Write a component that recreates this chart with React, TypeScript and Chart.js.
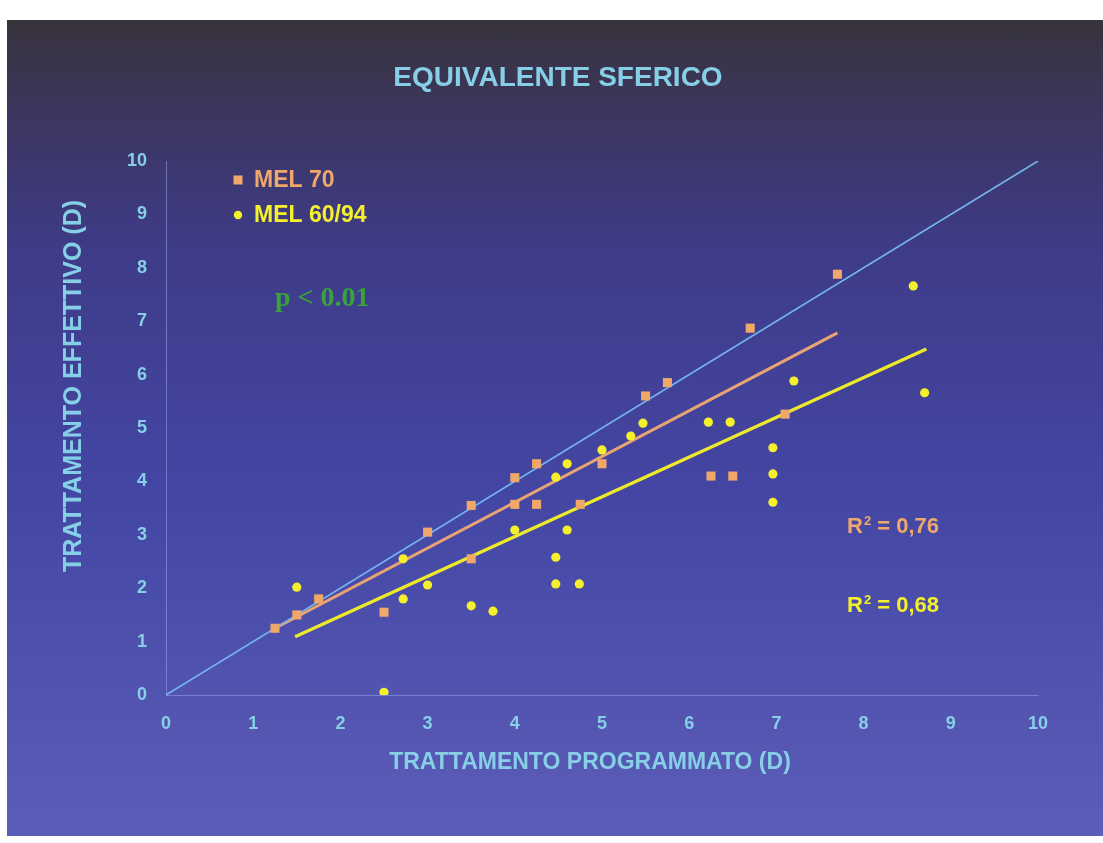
import React, { useEffect, useRef } from "react";
import { Chart, registerables } from "chart.js";

Chart.register(...registerables);

// ---- texts ----
const TITLE = "EQUIVALENTE SFERICO";
const X_TITLE = "TRATTAMENTO PROGRAMMATO (D)";
const Y_TITLE = "TRATTAMENTO EFFETTIVO (D)";
const SERIES_NAMES = ["MEL 70", "MEL 60/94"];
const P_TEXT = "p < 0.01";
const R2_VALUES = ["0,76", "0,68"];

// ---- axes ----
const AXIS_MIN = 0;
const AXIS_MAX = 10;
const AXIS_STEP = 1;

// ---- MEL 70 (squares) ----
const mel70X = [1.25, 1.5, 1.75, 2.5, 3, 3.5, 3.5, 4, 4, 4.25, 4.25, 4.75, 5, 5.5, 5.75, 6.25, 6.5, 6.7, 7.1, 7.7];
const mel70Y = [1.25, 1.5, 1.8, 1.55, 3.05, 3.55, 2.55, 4.07, 3.57, 4.33, 3.57, 3.57, 4.33, 5.6, 5.85, 4.1, 4.1, 6.87, 5.26, 7.88];

// ---- MEL 60/94 (circles) ----
const mel6094X = [1.5, 2.5, 2.72, 2.72, 3, 3.5, 3.75, 4, 4.47, 4.47, 4.47, 4.6, 4.6, 4.74, 5, 5.33, 5.47, 6.22, 6.47, 6.96, 6.96, 6.96, 7.2, 8.57, 8.7];
const mel6094Y = [2.02, 0.05, 2.55, 1.8, 2.06, 1.67, 1.57, 3.09, 4.08, 2.58, 2.08, 4.33, 3.09, 2.08, 4.59, 4.85, 5.09, 5.11, 5.11, 4.63, 4.14, 3.61, 5.88, 7.66, 5.66];

// ---- lines ----
const identityX = [0, 10];
const identityY = [0, 10];
const trend70X = [1.25, 7.7];
const trend70Y = [1.25, 6.78];
const trend6094X = [1.48, 8.72];
const trend6094Y = [1.09, 6.48];

const toPts = (xs: number[], ys: number[]) => xs.map((x, i) => ({ x, y: ys[i] }));

const CYAN = "#86cfe6";
const ORANGE = "#f0a86a";
const YELLOW = "#f4f02c";
const GREEN = "#3aa23a";
const SANS = "'Liberation Sans', Arial, sans-serif";

const overlay = {
  id: "overlay",
  afterDraw(chart: any) {
    const { ctx, chartArea: a } = chart;
    ctx.save();
    // title
    ctx.fillStyle = CYAN;
    ctx.textAlign = "center";
    ctx.textBaseline = "middle";
    ctx.font = `bold 28px ${SANS}`;
    ctx.fillText(TITLE, 558, 78);
    // x axis title
    ctx.font = `bold 23px ${SANS}`;
    ctx.fillText(X_TITLE, 590, 763);
    // y axis title
    ctx.save();
    ctx.translate(74, 386);
    ctx.rotate(-Math.PI / 2);
    ctx.font = `bold 25px ${SANS}`;
    ctx.fillText(Y_TITLE, 0, 0);
    ctx.restore();

    // legend
    const ds = chart.data.datasets;
    const lx = a.left + 72;
    const ly = a.top + 19;
    ctx.textAlign = "left";
    ctx.font = `bold 23px ${SANS}`;
    ctx.fillStyle = ds[0].backgroundColor;
    ctx.fillRect(lx - 4.5, ly - 4.5, 9, 9);
    ctx.fillText(ds[0].label, lx + 16, ly + 1);
    ctx.fillStyle = ds[1].backgroundColor;
    ctx.beginPath();
    ctx.arc(lx, ly + 35, 4.2, 0, Math.PI * 2);
    ctx.fill();
    ctx.fillText(ds[1].label, lx + 16, ly + 36);

    // p value
    ctx.fillStyle = GREEN;
    ctx.font = `bold 28px 'Liberation Serif', 'Times New Roman', serif`;
    ctx.fillText(P_TEXT, a.left + 109, a.top + 138);

    // R^2 labels
    const drawR2 = (val: string, color: string, x: number, y: number) => {
      ctx.fillStyle = color;
      ctx.textBaseline = "alphabetic";
      ctx.font = `bold 22px ${SANS}`;
      ctx.fillText("R", x, y);
      let w = ctx.measureText("R").width;
      ctx.font = `bold 13px ${SANS}`;
      ctx.fillText("2", x + w + 1, y - 8);
      w += ctx.measureText("2").width + 1;
      ctx.font = `bold 22px ${SANS}`;
      ctx.fillText(" = " + val, x + w, y);
    };
    drawR2(R2_VALUES[0], ORANGE, 847, 533);
    drawR2(R2_VALUES[1], YELLOW, 847, 612);
    ctx.restore();
  },
};

export default function App() {
  const ref = useRef<HTMLCanvasElement | null>(null);
  useEffect(() => {
    if (!ref.current) return;
    const tickFont = { family: SANS, size: 18, weight: "bold" as const };
    const chart = new Chart(ref.current, {
      type: "scatter",
      data: {
        datasets: [
          {
            label: SERIES_NAMES[0],
            data: toPts(mel70X, mel70Y),
            backgroundColor: ORANGE,
            borderColor: ORANGE,
            pointStyle: "rect",
            pointRadius: 6.4,
            borderWidth: 0,
          },
          {
            label: SERIES_NAMES[1],
            data: toPts(mel6094X, mel6094Y),
            backgroundColor: YELLOW,
            borderColor: YELLOW,
            pointStyle: "circle",
            pointRadius: 4.6,
            borderWidth: 0,
          },
          {
            label: "y = x",
            data: toPts(identityX, identityY),
            showLine: true,
            borderColor: "#74b6ee",
            borderWidth: 1.6,
            pointRadius: 0,
          },
          {
            label: "trend MEL 70",
            data: toPts(trend70X, trend70Y),
            showLine: true,
            borderColor: "#e9a474",
            borderWidth: 3,
            pointRadius: 0,
          },
          {
            label: "trend MEL 60/94",
            data: toPts(trend6094X, trend6094Y),
            showLine: true,
            borderColor: "#eeea2a",
            borderWidth: 3.2,
            pointRadius: 0,
          },
        ],
      },
      options: {
        animation: false,
        responsive: false,
        devicePixelRatio: 1,
        layout: { padding: { left: 0, top: 161, right: 65, bottom: 0 } },
        plugins: { legend: { display: false }, title: { display: false }, tooltip: { enabled: false } },
        scales: {
          x: {
            type: "linear",
            min: AXIS_MIN,
            max: AXIS_MAX,
            ticks: { stepSize: AXIS_STEP, color: CYAN, font: tickFont, padding: 18 },
            grid: { color: "rgba(0,0,0,0)", drawTicks: false },
            border: { display: true, color: "rgba(150,165,235,0.55)", width: 1 },
            afterFit: (s: any) => { s.height = 843 - 695; },
          },
          y: {
            type: "linear",
            min: AXIS_MIN,
            max: AXIS_MAX,
            ticks: { stepSize: AXIS_STEP, color: CYAN, font: tickFont, padding: 19 },
            grid: { color: "rgba(0,0,0,0)", drawTicks: false },
            border: { display: true, color: "rgba(150,165,235,0.55)", width: 1 },
            afterFit: (s: any) => { s.width = 166; },
          },
        },
      },
      plugins: [overlay],
    });
    return () => chart.destroy();
  }, []);

  return (
    <div style={{ position: "fixed", left: 0, top: 0, width: 1103, height: 843, background: "#ffffff", overflow: "hidden" }}>
      <div
        style={{
          position: "absolute",
          left: 7,
          top: 20,
          width: 1096,
          height: 816,
          background:
            "linear-gradient(180deg, #38333c 0%, #3c3660 12%, #3e3b88 28%, #4446a4 58%, #5b5db8 100%)",
        }}
      />
      <canvas ref={ref} width={1103} height={843} style={{ position: "absolute", left: 0, top: 0, display: "block" }} />
    </div>
  );
}
